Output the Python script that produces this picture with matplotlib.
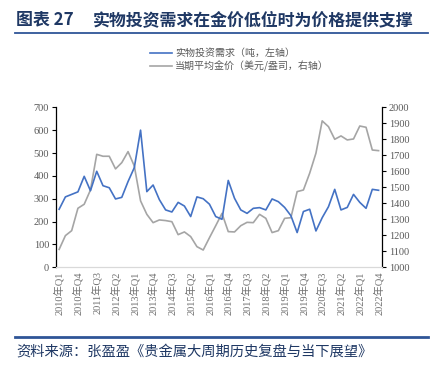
import matplotlib.pyplot as plt
from matplotlib.lines import Line2D

# quarterly data, 2010Q1 - 2022Q4
years = list(range(2010, 2023))
quarters = [f"{y}年Q{q}" for y in years for q in range(1, 5)]

demand = [254, 308, 319, 330, 398, 335, 420, 357, 348, 299,
          306, 375, 436, 600, 331, 360, 296, 251, 242, 284,
          268, 222, 308, 300, 276, 222, 210, 380, 302, 251,
          236, 258, 261, 251, 299, 287, 262, 226, 152, 244,
          254, 159, 217, 265, 341, 251, 262, 319, 284, 258,
          341, 337]

gold = [1112, 1198, 1229, 1369, 1394, 1483, 1706, 1694, 1694, 1615,
        1654, 1723, 1633, 1415, 1331, 1279, 1296, 1292, 1285, 1204,
        1221, 1192, 1129, 1108, 1185, 1260, 1337, 1223, 1221, 1260,
        1281, 1279, 1331, 1306, 1217, 1229, 1306, 1310, 1473, 1483,
        1588, 1713, 1915, 1879, 1800, 1821, 1796, 1802, 1883, 1875,
        1733, 1729]

title_no = "图表 27"
title = "实物投资需求在金价低位时为价格提供支撑"
source = "资料来源：张盈盈《贵金属大周期历史复盘与当下展望》"
labels = ["实物投资需求（吨，左轴）", "当期平均金价（美元/盎司，右轴）"]

NAVY = "#1F3864"
LINE_BLUE = "#2F5597"
GREY_TXT = "#595959"
CJK = ["Noto Sans CJK SC", "DejaVu Sans"]
NUM = ["Liberation Serif", "Noto Sans CJK SC"]


def main():
    fig = plt.figure(figsize=(4.4, 3.75), dpi=100)
    ax = fig.add_axes([0.1273, 0.2872, 0.7402, 0.4267])
    ax2 = ax.twinx()

    x = list(range(len(quarters)))
    ax.plot(x, demand, color="#4472C4", lw=1.2, zorder=3)
    ax2.plot(x, gold, color="#A5A5A5", lw=1.2)
    ax.set_zorder(ax2.get_zorder() + 1)
    ax.patch.set_visible(False)

    ax.set_xlim(-0.5, len(quarters) - 0.5)
    ax.set_ylim(0, 700)
    ax2.set_ylim(1000, 2000)
    ax.set_yticks(range(0, 701, 100))
    ax2.set_yticks(range(1000, 2001, 100))
    ax.set_xticks(x[::3])
    ax.set_xticklabels(quarters[::3], rotation=90, family=NUM,
                       fontsize=7.5, color="#6F6F6F")
    for a in (ax, ax2):
        a.tick_params(axis="y", direction="out", length=3, width=0.8,
                      labelsize=7.5, labelcolor=GREY_TXT, pad=2)
        for t in a.get_yticklabels():
            t.set_family(NUM)
        a.spines["top"].set_visible(False)
        a.spines["bottom"].set_color("#D9D9D9")
    ax.tick_params(axis="x", length=0, pad=3)
    ax.spines["right"].set_visible(False)
    ax2.spines["left"].set_visible(False)
    ax.spines["left"].set_linewidth(0.9)
    ax2.spines["right"].set_linewidth(0.9)

    # legend
    handles = [Line2D([], [], color="#4472C4", lw=1.2),
               Line2D([], [], color="#A5A5A5", lw=1.2)]
    fig.legend(handles, labels, loc="upper left",
               bbox_to_anchor=(0.33, 0.885), frameon=False,
               prop={"family": CJK, "size": 7.2}, labelcolor=GREY_TXT,
               handlelength=2.2, handletextpad=0.3, labelspacing=0.25,
               borderpad=0)

    # title, rules and source
    fig.text(0.036, 0.947, title_no, family=CJK, fontsize=12.2,
             fontweight="bold", color=NAVY, va="center")
    fig.text(0.211, 0.947, title, family=CJK, fontsize=12.2,
             fontweight="bold", color=NAVY, va="center")
    fig.add_artist(Line2D([0.034, 0.973], [0.911, 0.911], color=LINE_BLUE,
                          lw=1.3, transform=fig.transFigure))
    fig.add_artist(Line2D([0.034, 0.973], [0.102, 0.102], color=LINE_BLUE,
                          lw=2.0, transform=fig.transFigure))
    fig.text(0.038, 0.062, source, family=CJK, fontsize=10.3,
             style="italic", color=NAVY, va="center")

    fig.savefig("out.png", dpi=100)


if __name__ == '__main__':
    main()
